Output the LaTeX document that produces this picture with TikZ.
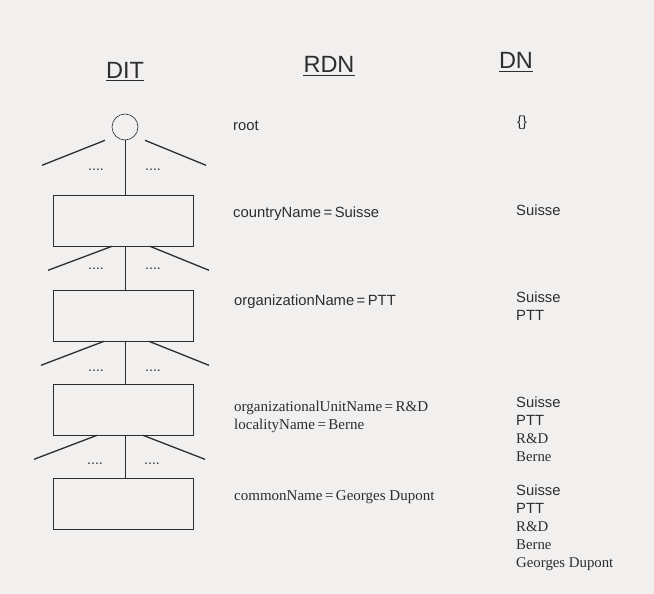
\documentclass[tikz,border=0pt]{standalone}
\usepackage{fontspec}
\setmainfont{Liberation Sans}
\newfontfamily\serifx{Liberation Serif}
\usetikzlibrary{calc}
\definecolor{bg}{RGB}{242,239,239}
\definecolor{ink}{RGB}{45,45,45}
\begin{document}
\begin{tikzpicture}[x=1pt,y=-1pt,
  hdr/.style={inner sep=0pt, anchor=base, font=\fontsize{23.5}{26}\selectfont, text=ink},
  rdn/.style={inner sep=0pt, anchor=base west, font=\fontsize{14.8}{17.8}\selectfont, text=ink, align=left},
  rdnserif/.style={rdn, font=\serifx\fontsize{15}{17.8}\selectfont},
  treebox/.style={draw=ink, line width=0.6pt, minimum width=140pt, minimum height=51pt, inner sep=0pt},
  topnode/.style={draw=ink, line width=0.6pt, circle, minimum size=26pt, inner sep=0pt},
  trunk/.style={draw=ink, line width=0.8pt},
  branch/.style={draw=ink, line width=1.3pt},
  dotsn/.style={inner sep=0pt, font=\fontsize{14}{14}\selectfont, text=ink},
  uline/.style={draw=ink, line width=1.1pt}
]
\fill[bg] (0,0) rectangle (654,594);
\useasboundingbox (0,0) rectangle (654,594);

% headers
\node[hdr] (hdit) at (125,78) {DIT};
\node[hdr] (hrdn) at (329,73) {RDN};
\node[hdr] (hdn) at (516,69) {DN};
\foreach \h in {hdit,hrdn,hdn}
  \draw[uline] ($(\h.base west)+(0,2.8)$) -- ($(\h.base east)+(0,2.8)$);

% tree
\node[topnode] (top) at (125,127) {};
\node[treebox] (b1) at (123,220.5) {};
\node[treebox] (b2) at (123,315.5) {};
\node[treebox] (b3) at (123,409.5) {};
\node[treebox] (b4) at (123,503.5) {};

\draw[trunk] (top.south) -- (top.south |- b1.north);
\draw[trunk] (b1.south -| top) -- (b2.north -| top);
\draw[trunk] (b2.south -| top) -- (b3.north -| top);
\draw[trunk] (b3.south -| top) -- (b4.north -| top);

% branches
\draw[branch] ($(top.south)+(-20,0)$) -- ++(-63,25);
\draw[branch] ($(top.south)+(20,0)$) -- ++(61,25);
\draw[branch] ($(b1.south)+(-11,0)$) -- ++(-64,24);
\draw[branch] ($(b1.south)+(27,0)$) -- ++(59,24);
\draw[branch] ($(b2.south)+(-19,0)$) -- ++(-63,24);
\draw[branch] ($(b2.south)+(26,0)$) -- ++(60,24);
\draw[branch] ($(b3.south)+(-26,0)$) -- ++(-63,24);
\draw[branch] ($(b3.south)+(20,0)$) -- ++(62,24);

% dots
\node[dotsn] (d0l) at (96,170) {....};
\node[dotsn] (d0r) at (153,170) {....};
\node[dotsn] (d1l) at (96,269) {....};
\node[dotsn] (d1r) at (153,269) {....};
\node[dotsn] (d2l) at (96,371) {....};
\node[dotsn] (d2r) at (153,371) {....};
\node[dotsn] (d3l) at (95,464) {....};
\node[dotsn] (d3r) at (152,464) {....};

% RDN column (multi-line nodes are placed by the baseline of their last line)
\node[rdn] (r0) at (233,130) {root};
\node[rdn] (r1) at (233,217) {countryName\,=\,Suisse};
\node[rdn] (r2) at (234,305) {organizationName\,=\,PTT};
\node[rdnserif] (r3) at (234,429) {organizationalUnitName\,=\,R\&D\\localityName\,=\,Berne};
\node[rdnserif] (r4) at (234,500) {commonName\,=\,Georges Dupont};

% DN column
\node[rdn] (n0) at (517,127) {\{\}};
\node[rdn] (n1) at (516,215) {Suisse};
\node[rdn] (n2) at (516,320) {Suisse\\PTT};
\node[rdn] (n3) at (516,461) {Suisse\\PTT\\{\serifx R\&D}\\{\serifx Berne}};
\node[rdn] (n4) at (516,567) {Suisse\\PTT\\{\serifx R\&D}\\{\serifx Berne}\\{\serifx Georges Dupont}};
\end{tikzpicture}
\end{document}
